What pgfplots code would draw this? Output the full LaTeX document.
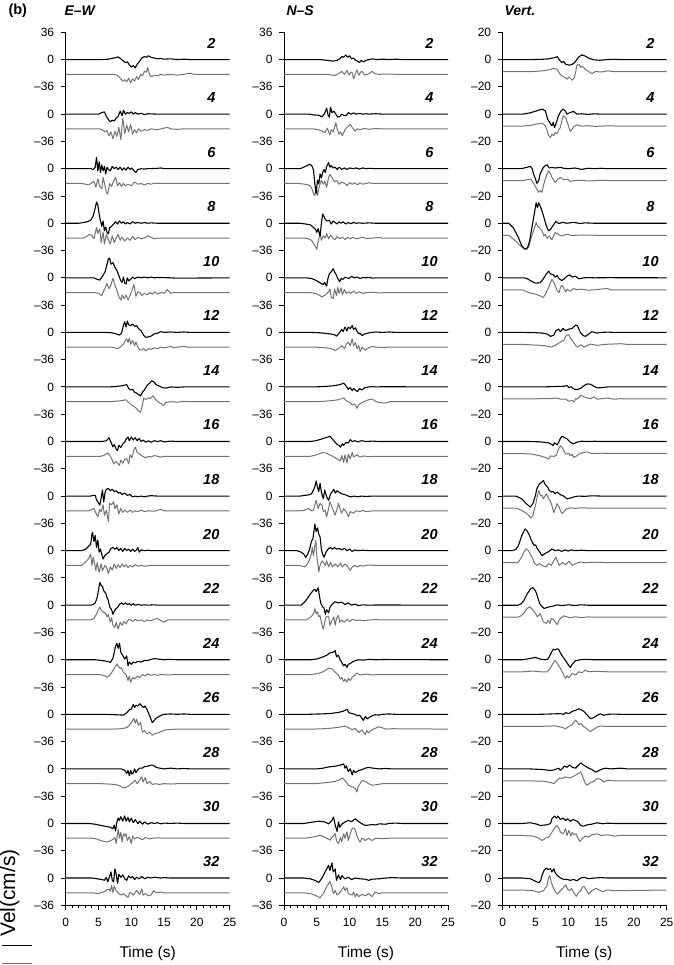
\documentclass[border=0pt]{standalone}
\usepackage{pgfplots}
\pgfplotsset{compat=1.18}
\usepackage{fontspec}
\setmainfont{Liberation Sans}
\definecolor{tracegray}{gray}{0.45}

\pgfplotsset{
  seis/.style={
    scale only axis, width=164pt, height=873pt, anchor=south west,
    xmin=0, xmax=25, xtick={0,5,...,25}, minor x tick num=4,
    axis x line*=bottom, axis y line*=left,
    axis line style={-, line width=1pt},
    tick align=outside, major tick length=5pt, minor tick length=2.5pt,
    every tick/.style={black, line width=0.9pt},
    tick label style={font=\fontsize{12}{12}\selectfont},
    /pgf/number format/assume math mode=true,
    xticklabel style={yshift=-4pt},
    yticklabel style={xshift=-3pt},
  },
  % k = row number (0 = top), traces shifted down by whole panels
  bk/.style={black, line width=1.1pt, line join=round, y filter/.expression={y-72*#1}},
  gr/.style={tracegray, line width=1pt, line join=round, y filter/.expression={y-72*#1-19.5}},
  vbk/.style={black, line width=1.1pt, line join=round, y filter/.expression={y-40*#1}},
  vgr/.style={tracegray, line width=1pt, line join=round, y filter/.expression={y-40*#1-8.8}},
}
\tikzset{plab/.style={font=\bfseries\itshape\fontsize{14.5}{14.5}\selectfont}}

\begin{document}
\begin{tikzpicture}[x=1pt,y=1pt]
\useasboundingbox (0,0) rectangle (673,965);

%% ---------------- E-W ----------------
\begin{axis}[seis, at={(65.7pt,59.7pt)}, ymin=-1116, ymax=36,
  ytick={36,0,-36,-72,-108,-144,-180,-216,-252,-288,-324,-360,-396,-432,-468,-504,-540,-576,-612,-648,-684,-720,-756,-792,-828,-864,-900,-936,-972,-1008,-1044,-1080,-1116},
  yticklabels={36,0,–36,0,–36,0,–36,0,–36,0,–36,0,–36,0,–36,0,–36,0,–36,0,–36,0,–36,0,–36,0,–36,0,–36,0,–36,0,–36}]
\addplot[gr=0] coordinates {(0,0)(7.5,0)(8,-2)(8.3,-5)(8.7,-9)(9,-7)(9.3,-10)(9.6,-5)(9.9,-11)(10.2,-6)(10.5,-9)(10.8,-3)(11.1,-7)(11.4,0)(11.7,-2)(12,4)(12.3,3)(12.5,9)(12.8,-1)(13.1,-3)(13.5,-1)(14,-2)(14.5,0)(15,-1)(16,0)(17,-1)(18,0)(19,1.5)(19.5,0)(25,0)};
\addplot[bk=0] coordinates {(0,0)(5.5,0)(6.5,0.5)(7.3,2)(8,3.5)(8.4,1)(8.8,-2)(9.1,-4)(9.4,-3)(9.7,-7)(10,-10)(10.3,-8)(10.6,-11)(10.9,-6)(11.2,-3)(11.6,2)(12,4)(12.3,3)(12.6,5)(13,3)(13.5,2)(14,1)(14.5,1.5)(15,0.5)(16,1)(17,0)(18,0.5)(19,0)(25,0)};
\addplot[gr=1] coordinates {(0,0)(5.3,0)(5.7,-2)(6,-4)(6.3,-2)(6.6,-9)(6.9,-4)(7.2,-13)(7.5,-3)(7.8,-10)(8.1,2)(8.4,-14)(8.7,14)(9,-6)(9.3,5)(9.6,-4)(9.9,6)(10.2,-7)(10.5,-1)(10.8,-5)(11.1,0)(11.5,-3)(12,-1)(12.5,-2)(13,0)(14,-1)(15,1)(15.5,2)(16,0)(17,-0.5)(18,0)(25,0)};
\addplot[bk=1] coordinates {(0,0)(5,0)(5.5,2)(5.9,3)(6.2,-3)(6.5,-7)(6.8,-10)(7.1,-8)(7.4,-9)(7.7,-5)(8,-3)(8.3,4)(8.6,-2)(8.8,5)(9.1,0)(9.4,2)(9.7,1)(10,3)(10.3,0)(10.6,2)(11,0)(11.5,1)(12,-0.5)(12.5,0.5)(14,0)(25,0)};
\addplot[gr=2] coordinates {(0,0)(2.5,0)(3,-1)(3.5,-2)(4,1)(4.3,3)(4.6,-5)(4.9,6)(5.2,-4)(5.5,-7)(5.7,8)(6,-3)(6.2,-12)(6.4,-14)(6.7,0)(7,-4)(7.3,3)(7.6,8)(7.9,-3)(8.2,1)(8.5,-4)(8.8,0)(9.1,-3)(9.5,-1)(10,-3)(10.5,2)(11,-1)(11.5,0)(12,-2)(12.5,0)(13,-1)(13.5,0.5)(14,0)(25,0)};
\addplot[bk=2] coordinates {(0,0)(3.8,0)(4.2,-1)(4.5,2)(4.7,15)(4.9,-3)(5.1,9)(5.3,-5)(5.5,5)(5.7,-3)(5.9,3)(6.1,-7)(6.3,2)(6.5,-1)(6.8,-3)(7.1,3)(7.4,0)(7.7,2)(8,-1)(8.3,2)(8.6,-2)(8.9,1)(9.2,-2)(9.5,2)(9.8,-1)(10.1,1)(10.4,-3)(10.7,-5)(11,-1)(11.5,0)(12,-0.5)(12.5,0)(14,0.5)(14.5,1)(15,0)(25,0)};
\addplot[gr=3] coordinates {(0,0)(2.8,0)(3.2,2)(3.6,5)(4,3)(4.3,-1)(4.7,14)(4.9,6)(5.2,12)(5.4,-6)(5.7,8)(5.9,-8)(6.2,5)(6.5,-2)(6.8,-8)(7.1,3)(7.4,-6)(7.7,0)(8,5)(8.3,-3)(8.6,1)(9,-4)(9.4,0)(9.8,-3)(10.2,2)(10.6,-2)(11,1)(11.5,-1)(12,0)(12.5,3)(13,1)(13.5,-1)(14,0)(25,0)};
\addplot[bk=3] coordinates {(0,0)(2,0)(2.7,1)(3.3,2)(3.8,4)(4.2,10)(4.5,20)(4.7,28)(4.9,24)(5.1,12)(5.3,3)(5.5,-4)(5.7,3)(5.9,-10)(6.1,-5)(6.3,-12)(6.5,-14)(6.7,-6)(7,-4)(7.3,-1)(7.6,2)(7.9,-1)(8.2,3)(8.5,0)(8.8,2)(9.1,-1)(9.4,1)(9.8,-1)(10.2,2)(10.6,0)(11,1)(11.5,0)(12,1)(12.5,0)(13,0.5)(14,0)(25,0)};
\addplot[gr=4] coordinates {(0,0)(4.5,0)(5,-1)(5.5,-4)(5.8,2)(6.1,8)(6.3,12)(6.6,5)(6.9,10)(7.2,19)(7.5,10)(7.8,3)(8.1,-5)(8.4,-10)(8.6,-3)(8.9,-8)(9.2,-3)(9.5,-10)(9.8,-4)(10.1,3)(10.4,11)(10.7,-5)(11,1)(11.3,0)(11.6,-4)(12,-1)(12.4,-3)(12.8,0)(13.2,-2)(13.6,1)(14,-2)(14.5,0)(15,-1)(15.5,4)(16,-1)(16.5,0)(25,0)};
\addplot[bk=4] coordinates {(0,0)(4.3,0)(4.8,-2)(5.2,-3)(5.6,2)(6,8)(6.3,18)(6.5,25)(6.7,26)(6.9,18)(7.2,20)(7.5,14)(7.8,10)(8.1,3)(8.4,-4)(8.6,-6)(8.8,1)(9,-7)(9.2,-8)(9.4,0)(9.6,-4)(9.9,-2)(10.2,1)(10.5,-1)(11,1)(11.5,0)(12,1)(12.5,0)(13,1)(13.5,0)(14,0.5)(16,0)(17,-0.5)(25,0)};
\addplot[gr=5] coordinates {(0,0)(7,0)(7.5,-1)(8,-2)(8.4,1)(8.8,4)(9.1,9)(9.3,11)(9.5,6)(9.7,12)(9.9,4)(10.2,9)(10.5,2)(10.7,7)(11,0)(11.3,-4)(11.6,-3)(11.9,-2)(12.2,-5)(12.6,-2)(13,-3)(13.5,-1)(14,-2)(14.5,0)(15,-1)(16,1)(16.5,-1)(17,0)(18,1)(18.5,0)(25,0)};
\addplot[bk=5] coordinates {(0,0)(6,0)(7,-0.5)(7.7,-2)(8.2,-3.5)(8.5,-1)(8.8,9)(9,14)(9.2,7)(9.4,15)(9.6,10)(9.9,9)(10.2,11)(10.5,8)(10.8,9)(11.1,5)(11.5,2)(11.9,-4)(12.2,-6.5)(12.6,-6)(13,-5)(13.5,-2)(14,-1)(14.5,1)(15,0)(16,0.5)(17,0)(18,0.5)(19,0)(25,0)};
\addplot[gr=6] coordinates {(0,0)(6.5,0)(7.5,0.5)(8.5,1.5)(9.2,2.5)(9.6,-1)(10,-4)(10.4,-6)(10.8,-9)(11.1,-12)(11.4,-14)(11.6,-8)(11.9,5)(12.2,3)(12.6,5)(12.9,4)(13.3,8)(13.7,3)(14.2,-1)(14.6,-3)(14.9,-5)(15.3,-1)(16,0)(17,-0.5)(18,0.5)(19,0)(25,0)};
\addplot[bk=6] coordinates {(0,0)(6.5,0)(7.5,0.5)(8.5,1.5)(9.3,3)(9.6,-2)(9.9,-4)(10.2,-3)(10.5,-7)(10.8,-8)(11.1,-10)(11.4,-12)(11.7,-7)(12,-4)(12.4,2)(12.8,5)(13.1,8)(13.4,7)(13.8,3)(14.3,1)(14.8,-1)(15.3,-1.5)(16,0)(17,-0.5)(18,0)(25,0)};
\addplot[gr=7] coordinates {(0,0)(5.3,0)(5.8,1)(6.4,4.5)(6.8,0)(7.1,-5)(7.3,-10)(7.6,-7)(7.9,-9)(8.2,-12)(8.4,-5)(8.7,-9)(9,-4)(9.3,-3)(9.6,-10)(9.8,2)(10.1,-2)(10.4,9)(10.6,12)(10.9,5)(11.3,3)(11.7,0)(12.2,-2)(12.6,0)(13,-1)(13.5,1)(14,0)(14.5,-1)(15,0)(25,0)};
\addplot[bk=7] coordinates {(0,0)(5.5,0)(6.2,1)(6.6,5)(6.9,-1)(7.2,-7)(7.4,-4)(7.7,-10)(7.9,-12)(8.1,-5)(8.4,-8)(8.7,-3)(9,-1)(9.2,3)(9.5,6)(9.7,1)(10,6)(10.3,2)(10.6,5)(10.9,1)(11.2,4)(11.5,0)(11.8,2)(12.2,-1)(12.6,1)(13,-1)(13.5,1)(14,0)(14.5,1)(15,-0.5)(16,0.5)(17,0)(25,0)};
\addplot[gr=8] coordinates {(0,0)(3.5,0)(4,2)(4.3,3)(4.6,-3)(4.9,-8)(5.2,2)(5.4,-1)(5.7,8)(5.9,-6)(6.2,1)(6.5,-14)(6.7,10)(7,8)(7.3,12)(7.5,3)(7.8,8)(8.1,-4)(8.4,3)(8.7,-2)(9,1)(9.4,-2)(9.8,1)(10.2,-2)(10.6,0)(11,-1)(11.5,1)(12,-1)(12.5,0)(13.5,-0.5)(14.5,2)(15,0)(25,0)};
\addplot[bk=8] coordinates {(0,0)(3.8,0)(4.2,1)(4.5,1)(4.7,-5)(5,-9)(5.2,-12)(5.4,-3)(5.6,8)(5.8,-8)(6,5)(6.2,9)(6.5,10)(6.8,7)(7.1,9)(7.4,6)(7.7,7)(8,4)(8.3,5)(8.6,2)(9,4)(9.4,1)(9.8,2)(10.2,-1)(10.6,0)(11,-1)(11.5,0)(12,-1)(12.5,0)(13,0.5)(14,0)(25,0)};
\addplot[gr=9] coordinates {(0,0)(2.4,0)(2.8,3)(3.2,6)(3.5,9)(3.8,15)(4,0)(4.2,11)(4.4,3)(4.6,-7)(4.8,4)(5.1,-9)(5.4,2)(5.6,-7)(6,0)(6.3,-4)(6.5,-11)(6.8,-2)(7.1,-6)(7.4,2)(7.7,-4)(8,1)(8.3,-3)(8.6,2)(8.9,-2)(9.2,1)(9.5,-3)(9.8,0)(10.2,-2)(10.6,1)(11,-1)(11.5,0)(12,-1)(13,0)(25,0)};
\addplot[bk=9] coordinates {(0,0)(2.3,0)(2.8,1)(3.2,3)(3.5,6)(3.8,8)(4,22)(4.1,24)(4.3,12)(4.5,20)(4.7,4)(4.9,14)(5.1,-2)(5.3,2)(5.5,-5)(5.7,-11)(6,-6)(6.3,-4)(6.6,-2)(6.9,3)(7.2,4)(7.5,2)(7.8,4)(8.1,0)(8.4,3)(8.7,-1)(9,3)(9.3,0)(9.6,2)(9.9,-1)(10.2,2)(10.5,-1)(10.8,1)(11,4)(11.2,-2)(11.5,1)(12,0)(12.5,0.5)(13,0)(25,0)};
\addplot[gr=10] coordinates {(0,0)(3.8,0)(4.3,2)(4.7,8)(5,14)(5.2,17)(5.5,12)(5.8,10)(6.1,9)(6.3,4)(6.5,7)(6.8,-3)(7,3)(7.2,-7)(7.5,-10)(7.7,-3)(8,-12)(8.3,-3)(8.6,-7)(8.9,-2)(9.2,-5)(9.5,0)(9.8,1)(10.2,-2)(10.6,1)(11,-1)(11.5,0)(12,-2)(12.5,0)(13,-1)(13.5,1)(14,2)(14.5,-1)(15,-3)(15.5,0)(16,0)(25,0)};
\addplot[bk=10] coordinates {(0,0)(3.8,0)(4.2,1)(4.5,3)(4.8,10)(5,20)(5.2,30)(5.4,26)(5.6,25)(5.8,19)(6.1,16)(6.3,10)(6.5,6)(6.7,-2)(7,-6)(7.2,-12)(7.4,-8)(7.6,-5)(7.9,-3)(8.2,1)(8.5,3)(8.8,1)(9.1,3)(9.4,1)(9.7,2)(10,0)(10.3,2)(10.6,0)(11,1)(11.5,0)(12,0.5)(12.5,0)(13.5,0.5)(14,0)(25,0)};
\addplot[gr=11] coordinates {(0,0)(5,0)(5.7,-1)(6.4,-3.5)(6.9,1)(7.3,7)(7.8,14)(8,11)(8.3,8)(8.5,9)(8.8,3)(9.2,0)(9.5,-8)(9.7,-2)(9.9,-10)(10.2,-4)(10.5,-6)(10.9,-2)(11.3,-4)(11.7,0)(12.1,-2)(12.5,1)(13,-1)(13.5,0)(14,-1)(14.5,0)(15.5,-0.5)(17,0)(25,0)};
\addplot[bk=11] coordinates {(0,0)(4.5,0)(5.5,-1)(6.3,-2)(6.8,-3.5)(7.2,2)(7.4,10)(7.6,18)(7.8,22)(8,15)(8.2,22)(8.4,10)(8.6,7)(8.8,4)(9,1)(9.3,5)(9.5,-8)(9.7,-3)(10,-6)(10.3,-3)(10.6,-4)(11,-2)(11.5,-3)(12,-1)(12.5,-1)(13,0.5)(13.5,1.5)(14,1)(15,0)(16,0.5)(17,0)(25,0)};
\addplot[gr=12] coordinates {(0,0)(7,0)(8.5,0.5)(9.3,2)(9.7,5)(10.1,10)(10.4,14)(10.6,8)(10.8,13)(11.1,5)(11.4,9)(11.7,-4)(12,-2)(12.4,-6)(12.8,-4)(13.2,-8)(13.6,-6)(14.1,-5)(14.6,-3)(15.2,-1)(16,-0.5)(17,0)(25,0)};
\addplot[bk=12] coordinates {(0,0)(6,0)(7.5,-0.5)(8.8,-1)(9.3,2)(9.7,6)(10,7)(10.3,13)(10.5,9)(10.7,12)(11,11)(11.3,14)(11.6,11)(11.9,9)(12.1,11)(12.4,6)(12.8,-2)(13.2,-11)(13.5,-8)(13.8,-5)(14.2,-3)(14.6,-1)(15,0)(16,0.5)(17,0)(18,0.5)(19,0)(25,0)};
\addplot[gr=13] coordinates {(0,0)(5.5,0)(6.5,-0.5)(7.5,-1)(8.3,-3)(8.8,-5.7)(9.2,-5)(9.6,-3)(10,0)(10.3,2)(10.6,4.4)(10.9,0)(11.2,4)(11.6,9)(11.8,2)(12.1,8)(12.4,0)(12.8,3)(13.2,-1)(13.7,0)(14.2,-1)(15,0)(16,-0.5)(17,0)(25,0)};
\addplot[bk=13] coordinates {(0,0)(8.5,0)(9,-2)(9.3,-6)(9.5,-2)(9.7,-9)(9.9,-2)(10.1,-7)(10.3,-5)(10.5,0)(10.7,-5)(11,-1)(11.3,1)(11.7,1)(12,3)(12.5,3.5)(13,5)(13.3,5)(13.8,2)(14.3,1)(15,0)(16,1)(17,0)(18,0.5)(19,0)(25,0)};
\addplot[gr=14] coordinates {(0,0)(4,0)(4.7,-1)(5.3,-3)(6.2,-5)(6.8,-3.5)(7.3,-1)(7.5,1)(7.7,-7)(8,12)(8.2,0)(8.4,8)(8.6,-5)(8.8,6)(9,3)(9.2,6)(9.4,-3)(9.7,2)(10,-7)(10.2,3)(10.5,-1)(10.9,1)(11.3,0)(11.7,-2)(12.2,1)(12.7,-1)(13.2,0)(14,0.5)(15,0)(25,0)};
\addplot[bk=14] coordinates {(0,0)(3.5,0)(4.5,-1)(5.3,-2.5)(6.2,-4)(6.8,-5)(7.2,-7)(7.4,-2)(7.6,-10)(7.8,2)(8,7)(8.2,4)(8.4,9)(8.7,3)(9,10)(9.2,3)(9.5,8)(9.7,2)(10,7)(10.3,1)(10.6,5)(11,0)(11.3,3)(11.7,-1)(12,2)(12.5,-1)(13,1)(13.5,0)(14,1)(14.5,-0.5)(15,0.5)(16,0)(17,0.5)(18,0)(25,0)};
\addplot[gr=15] coordinates {(0,0)(4,0)(5,-1)(5.5,0.5)(6,2)(6.3,4)(6.6,5)(6.8,2)(7,10)(7.2,0)(7.4,9)(7.7,3)(8,0)(8.4,-3)(8.8,-1)(9.2,-4)(9.5,-6)(9.8,1)(10.3,-3)(10.8,3)(11.3,-2)(11.6,5)(11.8,-3)(12.2,-1)(12.6,-4)(13,-3)(13.4,3)(13.8,0)(14.3,1)(15,0)(25,0)};
\addplot[bk=15] coordinates {(0,0)(4,0)(4.8,-1)(5.5,-2)(5.9,-3)(6.2,1)(6.4,-5)(6.7,2)(6.9,8)(7.1,-3)(7.3,-5)(7.5,12)(7.7,5)(7.9,-7)(8.1,5)(8.4,1)(8.7,4)(9,-1)(9.3,-3)(9.6,3)(9.9,0)(10.2,2)(10.5,-2)(10.8,1)(11.2,-1)(11.6,2)(12,-1)(12.5,1)(13,0)(13.5,1)(14.5,0)(15,0.5)(16,0)(25,0)};
\end{axis}

%% ---------------- N-S ----------------
\begin{axis}[seis, at={(284pt,59.7pt)}, ymin=-1116, ymax=36,
  ytick={36,0,-36,-72,-108,-144,-180,-216,-252,-288,-324,-360,-396,-432,-468,-504,-540,-576,-612,-648,-684,-720,-756,-792,-828,-864,-900,-936,-972,-1008,-1044,-1080,-1116},
  yticklabels={36,0,–36,0,–36,0,–36,0,–36,0,–36,0,–36,0,–36,0,–36,0,–36,0,–36,0,–36,0,–36,0,–36,0,–36,0,–36,0,–36}]
\addplot[gr=0] coordinates {(0,0)(6.5,0)(7.3,-1)(7.8,-1.5)(8.3,1)(8.8,4)(9.2,0)(9.6,5)(9.9,-1)(10.2,3)(10.4,2)(10.6,-6)(10.9,1)(11.1,6)(11.4,-1)(11.7,3)(11.9,4)(12.3,-1)(12.7,0)(13,1)(13.4,4)(13.8,1)(14.5,0)(15.5,0.5)(17,0)(25,0)};
\addplot[bk=0] coordinates {(0,0)(5.5,0)(6.5,-1)(7.5,-2)(8.1,-1)(8.5,1)(8.8,4)(9.1,3)(9.4,6)(9.7,3)(10,5)(10.3,1)(10.6,2)(10.9,-1)(11.2,-2)(11.5,-4)(11.8,-1)(12.1,-3)(12.5,-1)(13,0)(13.5,1)(14,0)(15,0.5)(16,0)(17,0.5)(18,0)(25,0)};
\addplot[gr=1] coordinates {(0,0)(4.5,0)(5.3,-1)(5.8,-3)(6.2,-5)(6.6,1)(7,-8)(7.2,-1)(7.5,-4)(7.9,8)(8.1,0)(8.4,-7)(8.6,-4)(8.9,-9)(9.3,-1)(9.6,2)(9.9,4)(10.1,6)(10.4,2)(10.8,-3)(11.2,0)(11.6,-1)(12.2,0.5)(13,-0.5)(14,0.5)(15,0)(25,0)};
\addplot[bk=1] coordinates {(0,0)(3.8,0)(4.5,-1)(5.3,-1.5)(5.8,-3.5)(6.2,1)(6.5,8)(6.7,-1)(6.9,-4)(7.1,9)(7.3,2)(7.6,4)(7.9,0)(8.2,-4)(8.5,-3)(8.8,0)(9.1,-1.5)(9.5,-2)(9.8,2)(10.2,0)(10.6,1.5)(11,0)(11.5,1)(12,0)(12.5,0.5)(13,0)(14,0.5)(15,0)(25,0)};
\addplot[gr=2] coordinates {(0,0)(2,0)(2.8,-0.5)(3.5,-1.5)(4,-3)(4.3,-8)(4.5,-14)(4.7,-16)(4.9,-5)(5.1,-16)(5.4,-3)(5.7,4)(6,-1)(6.2,3)(6.5,-5)(6.8,8)(7,12)(7.3,8)(7.7,2)(8,4)(8.4,-1)(8.8,2)(9.3,0)(9.6,-3)(10,1)(10.4,-1)(10.8,1)(11.2,-2)(11.6,1)(12,-1)(12.5,0)(13,1)(13.5,0)(25,0)};
\addplot[bk=2] coordinates {(0,0)(2.5,0)(3,2)(3.5,4)(4,6)(4.3,3)(4.5,-2)(4.7,-20)(4.9,-33)(5.1,-15)(5.3,-20)(5.5,-7)(5.7,-12)(5.9,-5)(6.1,-1)(6.3,-5)(6.5,3)(6.8,8)(7,2)(7.2,4)(7.5,1)(7.8,2)(8.1,-1)(8.4,2)(8.8,-1)(9.2,1)(9.6,-1)(10,1)(10.5,0)(11,1)(11.5,-0.5)(12,1)(12.5,0)(13,0.5)(14,0)(25,0)};
\addplot[gr=3] coordinates {(0,0)(3,0)(3.7,-1)(4.2,-3)(4.7,-10)(5,-15)(5.2,-5)(5.5,6)(5.7,-3)(6,3)(6.3,0)(6.5,6)(6.8,-1)(7.1,4)(7.4,0)(7.8,-2)(8.1,2)(8.5,-1)(8.9,1)(9.3,-2)(9.7,1)(10.1,-1)(10.5,1)(11,-1)(11.5,0)(12,1)(12.5,-0.5)(13.5,0)(14.5,0.5)(15,0)(25,0)};
\addplot[bk=3] coordinates {(0,0)(2.5,0)(3.3,-1)(4,-2)(4.5,-5.7)(4.8,-8)(5,-12)(5.2,-7)(5.5,-17)(5.7,0)(5.9,12)(6.1,9)(6.3,5)(6.6,3)(6.9,4)(7.2,-1)(7.5,3)(7.8,1)(8.1,-1)(8.4,2)(8.7,0)(9,2)(9.4,-1)(9.8,1)(10.2,-0.5)(10.6,1)(11,0)(11.5,0.5)(12,0)(13,0.5)(14,0)(25,0)};
\addplot[gr=4] coordinates {(0,0)(4,0)(4.8,-1)(5.3,-3)(5.8,-5.7)(6.3,-3)(6.8,1)(7,5)(7.2,-6)(7.5,-8)(7.7,5)(8,-4)(8.2,7)(8.4,-1)(8.7,6)(8.9,-3)(9.2,4)(9.5,-1)(9.8,1)(10.2,-1)(10.6,2)(11,-1)(11.5,1)(12,-1)(12.5,0)(13.5,0.5)(14.5,-0.5)(15.5,0)(25,0)};
\addplot[bk=4] coordinates {(0,0)(3.5,0)(4.2,-1)(4.8,-3)(5.5,-6.6)(6,-9)(6.2,-6)(6.5,-11)(6.7,-1)(6.9,5)(7.2,8)(7.5,12)(7.7,8)(7.9,5)(8.2,-1)(8.5,-5)(8.7,-1)(9,-2)(9.3,1)(9.6,0)(9.9,-1)(10.3,2)(10.7,0)(11.2,1)(11.6,-1)(12,0.5)(12.5,0)(13,0.5)(13.5,-0.5)(14,0)(25,0)};
\addplot[gr=5] coordinates {(0,0)(4.5,0)(6,-0.5)(7,-1.5)(7.8,-4.4)(8.3,-2)(8.8,2)(9.2,-2)(9.5,4)(9.8,6.6)(10.1,2)(10.4,11)(10.6,2)(10.9,6)(11.1,-2)(11.4,2)(11.6,-5.7)(11.9,0)(12.4,-4)(12.9,-1)(13.4,1)(14,0)(15,-0.5)(16,0)(25,0)};
\addplot[bk=5] coordinates {(0,0)(4,0)(5.5,-0.5)(7,-2)(7.7,-3)(8,-5)(8.4,-1)(8.8,4)(9,1)(9.3,7)(9.6,2)(9.8,7)(10.1,5)(10.4,9)(10.6,4)(10.9,6)(11.1,2)(11.4,-2)(11.6,-1)(11.9,-4.4)(12.3,-2)(12.8,-1)(13.3,0)(14,0.5)(15,0)(16,0.5)(17,0)(25,0)};
\addplot[gr=6] coordinates {(0,0)(4.5,0)(6,0.5)(7.3,1.5)(8.3,2.6)(9.1,5)(9.5,1)(10.1,-1)(10.4,-4.4)(10.7,-3)(11,-6)(11.1,-8.8)(11.4,-4)(11.9,-1)(12.4,1)(12.9,2.6)(13.4,3.5)(13.9,1)(14.4,-1)(15,-1.5)(15.6,-1.5)(16.2,0)(25,0)};
\addplot[bk=6] coordinates {(0,0)(4.5,0)(6,0.5)(7.5,1.5)(8.5,3)(9.1,5)(9.4,2)(9.8,-3)(10.1,-1)(10.4,-5)(10.6,-2)(11,-5)(11.2,-6)(11.5,-2)(11.9,-4)(12.3,-1)(12.9,0)(13.5,0.5)(14,0)(15,0.3)(25,0)};
\addplot[gr=7] coordinates {(0,0)(4,0)(4.8,1.5)(5.3,3)(5.8,5)(6.5,4)(7.3,0.5)(7.8,-2)(8.1,-3.5)(8.6,-6)(8.8,1)(9.1,-8)(9.3,2)(9.6,-9)(9.8,3)(10.1,-3.5)(10.4,5)(10.6,-1)(11.1,2)(11.6,-1)(12.2,0.5)(12.8,-0.5)(13.5,0)(25,0)};
\addplot[bk=7] coordinates {(0,0)(4,0)(4.8,1)(5.5,2.6)(6.3,5)(6.8,6)(7,7)(7.3,4)(7.8,-1)(8.1,-4)(8.4,-5)(8.6,-7.5)(8.9,-3)(9.1,-5)(9.5,-1)(9.8,-2)(10.1,2.6)(10.4,0)(10.8,1)(11.3,-0.5)(11.8,1)(12.5,0)(13.5,0.5)(14.5,0)(25,0)};
\addplot[gr=8] coordinates {(0,0)(2,0)(3,0.5)(3.7,3)(4.2,0)(4.5,1)(4.7,7.5)(4.9,14)(5.2,3)(5.5,10)(5.8,7)(6,-1)(6.3,1)(6.5,-8)(6.8,3)(7,12)(7.3,5)(7.6,-1)(7.8,-5.7)(8.1,3)(8.3,10)(8.6,1)(8.8,-3)(9.1,3)(9.6,-3)(9.8,-8)(10.1,-1)(10.6,-3)(11,0)(11.5,-1)(12,0.5)(12.5,-1)(13.5,0)(25,0)};
\addplot[bk=8] coordinates {(0,0)(2.5,0)(3.2,1)(3.7,1.5)(4.2,3)(4.7,12)(4.9,20)(5.1,12)(5.3,6)(5.5,17)(5.7,5)(6,-3.5)(6.2,8)(6.5,-1)(6.8,-5.7)(7.1,3)(7.3,5)(7.6,9)(7.8,4)(8.1,7)(8.4,5)(8.8,3)(9.3,2)(9.8,0)(10.2,-1)(10.7,0)(11.2,-1)(11.8,0)(12.5,-0.5)(13.5,0)(25,0)};
\addplot[gr=9] coordinates {(0,0)(2.2,0)(2.8,-1)(3.2,-2)(3.7,3.5)(4,10)(4.2,17)(4.3,24)(4.5,13)(4.7,26)(4.85,33)(5,12)(5.2,0)(5.3,-8.8)(5.5,0)(5.8,6)(6,4)(6.3,0)(6.5,6)(6.8,-2)(7.1,4)(7.4,-2)(7.8,2)(8.2,-2)(8.6,3)(8.9,-2)(9.3,2)(9.7,-1)(10.1,-6.6)(10.4,-2)(10.8,0)(11.2,-2)(11.6,0)(12,-1)(12.5,0)(13,0.5)(14,0)(25,0)};
\addplot[bk=9] coordinates {(0,0)(2,0)(2.6,-2)(3,-4.4)(3.3,-8.8)(3.6,-5)(3.9,2)(4.2,13)(4.4,15)(4.6,28)(4.7,35)(4.9,25)(5.1,30)(5.3,22)(5.5,18)(5.7,2)(5.9,-5)(6.1,-8.8)(6.4,-2)(6.8,3)(7.1,4)(7.4,2)(7.7,4)(8,2)(8.4,3)(8.8,1)(9.2,3)(9.6,0)(10,2)(10.4,-1)(10.8,1)(11.2,0)(12,0.5)(13,0)(25,0)};
\addplot[gr=10] coordinates {(0,0)(3.4,0)(3.8,2)(4.2,5)(4.5,8.4)(4.7,15)(4.9,8)(5.1,11)(5.3,4)(5.5,6)(5.8,-7)(6,-12)(6.2,-3)(6.4,4)(6.8,5)(7,-7)(7.3,-1)(7.6,4)(7.8,-7)(8,2)(8.3,6)(8.5,-3)(8.8,0)(9.2,-3)(9.6,1)(10,-2)(10.5,1)(11,-1)(11.5,0)(12,-1)(13,0)(14,0.5)(15,0)(25,0)};
\addplot[bk=10] coordinates {(0,0)(2.6,0)(3,3)(3.5,8)(4,14.5)(4.5,20)(4.7,21)(4.9,18)(5.2,23)(5.4,12)(5.6,3)(5.8,-1)(6.1,-4)(6.3,-12)(6.5,-6)(6.8,-10)(7,-3)(7.3,1)(7.8,4.4)(8.3,3)(8.8,4)(9.3,1)(9.8,3)(10.3,0)(10.8,1.5)(11.3,-0.5)(12,0.5)(13,0)(14,0.3)(25,0)};
\addplot[gr=11] coordinates {(0,0)(4,0)(5,1)(5.8,3)(6.4,6)(6.8,8.4)(7.3,7.5)(7.8,3)(8.3,-0.5)(8.6,-6)(8.8,-4)(9.1,-9)(9.3,-6)(9.6,-10)(9.8,-5)(10.1,-8)(10.4,-3.5)(10.8,-1)(11.1,2)(11.6,-0.5)(12.5,0.5)(13.5,-0.5)(14.5,0)(25,0)};
\addplot[bk=11] coordinates {(0,0)(4,0)(5,1)(6,4)(6.5,6)(7,9)(7.5,10)(7.8,12)(8,4)(8.3,6)(8.5,1)(8.8,-3.5)(9.1,-8)(9.3,-6)(9.6,-10)(9.8,-6)(10.1,-5)(10.4,-3)(10.9,-1)(11.4,0)(12,-0.5)(13,0.5)(14,0)(15,0.3)(25,0)};
\addplot[gr=12] coordinates {(0,0)(4.5,0)(6,0.5)(7.5,1.5)(8.8,3)(9.3,4)(9.8,2)(10.4,-1)(10.8,1)(11.2,-2)(11.4,-4.4)(11.9,-1)(12.2,-5)(12.4,-7)(12.6,-2)(12.9,-5)(13.4,-1)(13.9,1)(14.4,3)(14.9,2)(15.5,0)(16.5,0.5)(25,0)};
\addplot[bk=12] coordinates {(0,0)(3.7,0)(5.5,0.5)(7,1)(8.3,2.5)(9,4)(9.6,6.6)(9.9,2)(10.4,1)(10.8,0)(11.2,-2)(11.5,-1)(11.8,-4)(12.1,-8)(12.4,-3)(12.7,-6)(13,-4)(13.4,-2)(13.9,-0.5)(14.5,-1)(15,0)(16,0.5)(17,0)(25,0)};
\addplot[gr=13] coordinates {(0,0)(4.7,0)(6,1)(7,2)(7.8,3)(8.5,5)(8.9,7.5)(9.3,4)(9.8,-2)(10.3,-4)(10.6,-5)(10.9,-6.6)(11.1,-11)(11.3,-4)(11.6,0)(11.9,4.4)(12.4,3)(12.9,0)(13.4,-2)(14,-1.5)(15,0)(25,0)};
\addplot[bk=13] coordinates {(0,0)(5,0)(6,1)(6.8,2.6)(7.8,3.5)(8.6,5)(9.1,6.6)(9.3,1)(9.5,4)(9.8,-3.5)(10.1,0)(10.4,-8)(10.6,-2)(10.9,-5)(11.4,-2)(11.9,-1)(12.4,1)(12.9,2)(13.5,1)(14.5,0)(15.5,0.5)(16.5,0)(25,0)};
\addplot[gr=14] coordinates {(0,0)(3,0)(4,1)(4.7,2)(5.5,4)(6.3,1)(7,-2.6)(7.5,3)(7.8,6)(8,-3)(8.3,-7)(8.6,1)(8.8,-5)(9.1,6)(9.3,0)(9.6,8.4)(9.8,-3)(10.1,6)(10.4,12.8)(10.7,13.6)(10.9,10)(11.1,4)(11.4,-2.6)(11.6,-5)(11.9,0)(12.4,-3)(12.9,0)(13.4,-3)(14,0)(15,-0.5)(16,0)(25,0)};
\addplot[bk=14] coordinates {(0,0)(3,0)(3.8,1)(4.5,2)(5.3,3)(6.2,2)(6.8,-0.5)(7.3,4)(7.55,8.4)(7.8,-2)(8.1,-10.6)(8.3,2)(8.5,-5)(8.8,-1)(9.3,2)(9.8,4)(10.3,2.5)(10.7,5)(10.9,6)(11.3,3)(11.9,-0.5)(12.4,-2.6)(13,-2)(13.5,-1.5)(14,-2)(14.5,-0.5)(15.5,-1)(16,0)(17,0.5)(18,0)(25,0)};
\addplot[gr=15] coordinates {(0,0)(3,0)(4,-1)(4.7,-3)(5.5,-6.6)(6,-1)(6.5,8)(7,15)(7.2,10)(7.55,-1)(7.8,3)(8.1,-3)(8.6,1)(9.1,8)(9.3,3)(9.6,6.6)(9.8,-1)(10.4,-3)(10.6,1)(10.9,-5.3)(11.1,-1)(11.4,-5)(11.9,-2)(12.4,-4)(12.9,-1)(13.4,-5)(13.9,1)(14.4,-1)(15,0)(25,0)};
\addplot[bk=15] coordinates {(0,0)(3,0)(4,-1)(4.7,-3)(5.3,-6)(5.8,0)(6.3,8.8)(6.8,16.7)(7,10)(7.3,20)(7.5,8)(7.8,12)(8,-3)(8.3,4)(8.6,-2)(8.8,3)(9.3,-1)(9.8,1)(10.3,-2)(10.9,0)(11.5,-1)(12.3,-1.5)(12.9,-3)(13.5,-1.5)(14.5,-1)(15.5,0)(16.5,0.5)(18,0)(25,0)};
\end{axis}

%% ---------------- Vert. ----------------
\begin{axis}[seis, at={(502.7pt,59.7pt)}, ymin=-620, ymax=20,
  ytick={20,0,-20,-40,-60,-80,-100,-120,-140,-160,-180,-200,-220,-240,-260,-280,-300,-320,-340,-360,-380,-400,-420,-440,-460,-480,-500,-520,-540,-560,-580,-600,-620},
  yticklabels={20,0,–20,0,–20,0,–20,0,–20,0,–20,0,–20,0,–20,0,–20,0,–20,0,–20,0,–20,0,–20,0,–20,0,–20,0,–20,0,–20}]
\addplot[vgr=0] coordinates {(0,0)(4.5,0)(6,0.5)(6.75,1)(7.8,2.2)(8.3,1.7)(8.8,-2.4)(9.3,-3.9)(9.6,-4.5)(9.8,-5.6)(10.1,-4)(10.6,-6.3)(10.9,-4.4)(11.1,-1)(11.3,4.6)(11.6,5.4)(11.9,3)(12.1,4)(12.6,1.7)(13.1,0)(13.6,-1.5)(14.1,0)(15,-0.3)(16,0.5)(17,0)(25,0)};
\addplot[vbk=0] coordinates {(0,0)(4.5,0)(6,0.2)(7,0.5)(8,1.5)(8.3,2.2)(8.6,0)(9,-2.2)(9.3,-1.5)(9.6,-3.4)(10.1,-4.1)(10.6,-3.5)(11,-2)(11.3,0)(11.6,2)(12.1,3.4)(12.6,2.5)(13.1,1)(13.9,-0.2)(14.8,-0.5)(16,0)(17,0.2)(18,0)(25,0)};
\addplot[vgr=1] coordinates {(0,0)(3,0)(4.2,0.5)(5.2,1.5)(6,2.2)(6.5,0.2)(6.8,-3.4)(7,-7)(7.3,-8.3)(7.5,-5.8)(7.8,-7)(8,-4.6)(8.3,-5.4)(8.6,-2.2)(8.8,-1)(9.05,5)(9.3,7.6)(9.6,6.3)(9.8,3.4)(10.1,-1)(10.3,-3.9)(10.6,-2.2)(10.8,-0.5)(11.3,1)(12,0)(13,0.3)(14,-0.2)(16,0.2)(18,0)(25,0)};
\addplot[vbk=1] coordinates {(0,0)(3,0)(3.5,0.3)(4.2,1)(5.2,2.4)(6,3.7)(6.5,2.4)(6.85,-3.7)(7.3,-7.3)(7.5,-8.5)(7.7,-6)(7.9,-9.8)(8.2,-6)(8.5,-1.2)(8.9,2.4)(9.2,3.7)(9.5,2.5)(9.8,0)(10.3,1.2)(10.8,2)(11.3,0)(12,0.3)(13,-0.2)(14,0.2)(15,0)(25,0)};
\addplot[vgr=2] coordinates {(0,0)(3,0)(4.2,1.2)(4.6,-1)(5.2,-6)(5.5,-8.5)(5.7,-7.3)(6,-8.5)(6.2,-3.7)(6.65,3.7)(7,7.3)(7.3,4.9)(7.5,2.4)(8,-1.2)(8.3,0.5)(8.8,2.4)(9.3,0.7)(9.8,1.2)(10.3,-0.5)(10.8,0)(12,0.3)(13,-0.2)(15,0.3)(17,0)(25,0)};
\addplot[vbk=2] coordinates {(0,0)(2.8,0)(3.7,1)(4.2,1.7)(4.5,0)(4.7,-3.9)(5,-7.6)(5.2,-10.7)(5.5,-8.7)(5.7,-3.9)(6.2,1)(6.5,2.2)(6.75,2.9)(7.1,0.5)(7.5,1)(8,0.5)(8.8,1)(9.3,0.3)(10,0)(11,0.5)(12,-0.5)(13,0.3)(14,0)(15,0.3)(16,0)(25,0)};
\addplot[vgr=3] coordinates {(0,0)(0.9,0)(1.9,-4)(2.7,-7.8)(3.3,-10)(3.7,-10.3)(4,-8)(4.2,-4)(4.7,3.2)(5.1,9.3)(5.3,6.8)(5.6,5.6)(6,3.2)(6.3,-0.5)(6.5,0.7)(6.75,-2.2)(7.1,-0.5)(7.5,-3.2)(8,2)(8.5,0.7)(9,-0.5)(9.8,0.7)(10.5,-0.2)(12,0.2)(14,0)(25,0)};
\addplot[vbk=3] coordinates {(0,0)(0.9,0)(1.6,-3.2)(2.4,-10.5)(2.9,-16.6)(3.4,-19)(3.8,-17.8)(4.1,-13)(4.45,-3.2)(4.8,6.6)(5.1,15)(5.3,11.5)(5.5,15)(5.7,12.7)(6,9)(6.3,4)(6.65,-2)(7,-5.6)(7.3,-4.4)(7.8,-0.7)(8.1,1.2)(8.6,-0.2)(9.1,0.7)(9.8,0)(10.8,0.7)(11.8,-0.2)(12.5,0.3)(14,0)(25,0)};
\addplot[vgr=4] coordinates {(0,0)(3,0)(4.2,-2.4)(5,-3.2)(5.7,-4.4)(6.2,-5.6)(6.5,-3.2)(6.75,-0.7)(7.1,2.9)(7.5,7.8)(7.8,5.4)(8,2.9)(8.3,-0.7)(8.6,-2)(8.8,1.7)(9.05,3.4)(9.3,1)(9.6,-1.5)(9.8,0.5)(10.3,-1)(10.8,1)(11.3,0)(12,0.5)(13,-0.3)(14,0)(15.9,1)(16.5,0)(25,0)};
\addplot[vbk=4] coordinates {(0,0)(3.3,0)(3.8,-0.8)(4.2,-2)(5,-3.9)(5.7,-3.7)(6.2,-0.7)(6.65,2.9)(7,4.9)(7.3,2.9)(7.7,2.2)(8,0.5)(8.3,1.7)(8.6,-0.7)(9,-2)(9.4,-0.7)(9.8,1.2)(10.2,2.2)(10.6,0.5)(11.1,1.2)(11.6,-0.7)(12.4,0)(13,0.2)(14,0)(16,0.1)(25,0)};
\addplot[vgr=5] coordinates {(0,0)(3,0)(5.7,-0.7)(6.5,-1)(7.3,-2)(8,-0.7)(8.8,1.7)(9.3,2.9)(9.7,6.6)(10.1,7)(10.3,4.6)(10.6,2.9)(11.1,-0.7)(11.4,-2)(11.9,-0.2)(12.4,-2)(12.9,-0.7)(13.4,0.2)(14.4,-0.7)(15.5,0)(18,0.5)(19,0)(25,0)};
\addplot[vbk=5] coordinates {(0,0)(3,0)(5,-0.2)(6,-0.5)(6.75,-1.2)(7.3,-2.9)(7.8,-2)(8.1,1.2)(8.5,2.4)(8.8,0.5)(9.2,2.9)(9.6,1.2)(10.1,2.4)(10.6,2.9)(11.1,5.4)(11.4,4.9)(11.6,2.4)(11.9,-0.5)(12.3,-2.4)(12.6,-2.9)(13.1,-1.2)(13.6,0.5)(14.4,-0.5)(15,0)(16,0.2)(17,0)(25,0)};
\addplot[vgr=6] coordinates {(0,0)(3,0)(6,0.2)(7.3,0.3)(8.3,0.7)(8.8,-0.2)(9.6,-0.2)(10.1,-1.7)(10.6,-1)(10.9,-2.2)(11.1,0.2)(11.3,-0.2)(11.9,2.7)(12.4,1.5)(12.9,0.7)(13.4,0.2)(13.9,1.5)(14.4,-0.2)(15,0.2)(16,0.7)(17,-0.2)(18,0.2)(19,0)(25,0)};
\addplot[vbk=6] coordinates {(0,0)(6,0)(8,0.3)(9.3,0.5)(9.8,1)(10.1,-0.5)(10.4,0.2)(10.6,-0.7)(10.9,-1.5)(11.3,-2)(11.9,-1)(12.4,1)(12.9,2.2)(13.4,2)(13.9,0.5)(14.4,-0.7)(15,-0.5)(16,0)(25,0)};
\addplot[vgr=7] coordinates {(0,0)(3,0)(4.5,-0.5)(5.7,-1.7)(6.5,-2.9)(7,-4.1)(7.3,-1.7)(7.8,-2.2)(8.2,-1.2)(8.5,3.2)(8.8,5.6)(9.1,4.4)(9.3,2)(9.6,-0.5)(10.1,0.2)(10.3,-1.7)(10.6,-0.5)(10.8,-2.9)(11.3,-1.7)(11.8,0.2)(12.3,0.7)(12.9,1.2)(13.5,0)(15,0.2)(25,0)};
\addplot[vbk=7] coordinates {(0,0)(4,0)(5.5,-0.2)(6.2,-0.5)(7,-1)(7.3,-1.7)(7.7,-2.9)(7.9,-1)(8.3,-2.4)(8.6,0)(8.8,2.4)(9.1,3.9)(9.3,3.2)(9.8,2)(10.3,-0.5)(10.8,-1.7)(11.3,-0.5)(12,0.2)(13,0)(14,0.2)(15,0)(25,0)};
\addplot[vgr=8] coordinates {(0,0)(2,0)(2.9,-1.7)(3.7,-4.1)(4.3,-7.3)(4.6,-5.4)(5,2)(5.3,9.3)(5.5,12.9)(5.8,9)(6,9.3)(6.2,6.8)(6.65,10.5)(6.9,8)(7.2,5.6)(7.5,2)(7.8,-3.4)(8,-0.5)(8.3,3.2)(8.6,0.7)(8.8,-1.7)(9.05,-4.1)(9.3,-2.9)(9.6,-1)(9.8,-0.5)(10.3,0.2)(11,-0.2)(12,0.2)(13,0)(25,0)};
\addplot[vbk=8] coordinates {(0,0)(2,0)(2.9,-2)(3.6,-5.6)(4.2,-8)(4.6,-5.6)(5,0.5)(5.2,5.4)(5.6,9)(5.9,10)(6.2,11.5)(6.4,9)(6.6,7.8)(6.85,6.6)(7.1,4.1)(7.5,2.9)(7.7,3.4)(8,1.7)(8.3,2.9)(8.6,1.7)(8.8,1)(9.3,0)(9.8,-2)(10.3,-1.5)(10.8,-0.7)(11.5,0)(12.5,-0.2)(13.5,0.2)(15,0)(25,0)};
\addplot[vgr=9] coordinates {(0,0)(2.3,0)(2.9,4)(3.3,8.5)(3.6,10.2)(3.9,9)(4.45,4.1)(4.8,0)(5.2,-2)(5.6,-0.7)(6,-2)(6.6,-3.2)(7,-0.7)(7.4,-2)(7.8,1.7)(8.1,4.1)(8.3,1.7)(8.6,-2)(9.1,0)(9.6,-1.5)(10.1,1)(10.6,-2)(11.1,-0.7)(11.8,0.5)(12.5,0)(14,0.3)(16,0)(25,0)};
\addplot[vbk=9] coordinates {(0,0)(1.5,0)(2,1)(2.4,3.7)(2.9,11)(3.4,15.9)(3.7,14.6)(4.1,11)(4.4,7.3)(4.8,3.7)(5,4.2)(5.3,1.2)(5.6,-0.7)(6,-3.7)(6.5,-2)(7,-0.7)(7.5,1.2)(8,0)(8.5,0.5)(9,-0.5)(9.5,0.5)(10,-0.3)(10.5,0.5)(11,0)(12,0.3)(13,0)(25,0)};
\addplot[vgr=10] coordinates {(0,0)(2.3,0)(2.8,1)(3.2,2.7)(3.7,6.3)(4.1,7.6)(4.5,6)(5,2.7)(5.3,0.2)(5.7,2.7)(5.9,0.2)(6.2,-3.4)(6.65,-4.6)(6.9,-2.2)(7.2,-4.6)(7.4,-1)(7.7,-1.5)(8,-3.4)(8.3,-5.4)(8.6,-2.2)(8.8,-1)(9.3,1)(9.8,0.2)(10.3,-0.5)(11,0.3)(12,-0.3)(13,0.2)(14,0)(25,0)};
\addplot[vbk=10] coordinates {(0,0)(2.3,0)(2.8,1)(3.2,3.2)(3.7,8)(4.2,11.7)(4.6,12.9)(5,10.5)(5.2,8)(5.5,3.2)(5.7,0.7)(6,-1)(6.3,-2.4)(6.75,-1.7)(7.3,-1)(7.8,-0.5)(8.3,0.3)(9,-0.3)(10,0.3)(11,-0.2)(12,0.3)(13,0)(25,0)};
\addplot[vgr=11] coordinates {(0,0)(3,0)(4.7,0.5)(5.7,0)(6.75,0)(7.2,2)(7.5,4.9)(8,8.5)(8.3,6)(8.5,4.9)(8.8,2.4)(9.05,0)(9.3,-2.4)(9.6,-4.9)(9.8,-2.9)(10.1,-4.4)(10.6,-1.2)(11.1,-2.4)(11.6,0)(12.1,-0.7)(12.6,1.2)(13.1,0)(14,0.3)(16,0)(25,0)};
\addplot[vbk=11] coordinates {(0,0)(3,0)(3.7,0.5)(4.2,1)(5,1.7)(5.7,0.5)(6.5,0)(6.9,0.5)(7.3,4.1)(7.7,7.8)(8,7.3)(8.3,8)(8.5,7.8)(8.8,5)(9.05,3)(9.6,-0.7)(10.1,-4.4)(10.3,-5.6)(10.6,-3.2)(11.1,-0.7)(11.8,0)(12.5,0.3)(14,0)(25,0)};
\addplot[vgr=12] coordinates {(0,0)(6,0)(8,0.3)(9,-0.7)(9.6,-1.7)(10.1,0)(10.6,1.2)(11.1,4.6)(11.4,3)(11.6,1.2)(11.9,2)(12.3,0)(12.9,-2.2)(13.4,-3.7)(13.9,-2.2)(14.4,-0.5)(15,0.2)(16,0)(25,0)};
\addplot[vbk=12] coordinates {(0,0)(5.5,0)(7,0.2)(8.8,0.5)(9.3,0)(9.6,1.2)(10.1,0.5)(10.6,2.2)(11.1,2.9)(11.6,4.1)(12.1,3)(12.4,2)(12.9,-0.7)(13.4,-3.2)(13.9,-2.4)(14.4,-0.7)(14.9,0.3)(15.4,-0.7)(16,0)(17,0.2)(18,0)(25,0)};
\addplot[vgr=13] coordinates {(0,0)(4,0)(6.2,-0.2)(7.3,-1.2)(7.8,-2)(8.3,0.5)(8.7,2.2)(9.05,1.7)(9.6,2.9)(10.1,2.2)(10.6,2.9)(11.1,4.1)(11.5,5.4)(11.9,6.6)(12.1,4.1)(12.4,0.5)(12.6,-2)(12.9,-3.2)(13.4,-1.2)(13.9,-0.2)(14.4,1.7)(14.9,1.2)(15.4,-0.7)(16,0.5)(17,0)(25,0)};
\addplot[vbk=13] coordinates {(0,0)(4,0)(6.2,-0.5)(7.3,-1.2)(8,-0.5)(8.5,0.5)(8.8,-1)(9.05,0)(9.4,2)(9.8,1.2)(10.2,2.9)(10.6,1.2)(11.1,0.5)(11.6,2.9)(11.9,4.4)(12.3,2.9)(12.6,2)(13.1,0.5)(13.6,-0.5)(14.2,-2.4)(14.7,-1.2)(15.2,0)(15.7,0.5)(16.5,0)(18,0.5)(19,0)(25,0)};
\addplot[vgr=14] coordinates {(0,0)(3,0)(4.7,-0.5)(5.5,-2)(6,-3.7)(6.5,-2)(7,-1.2)(7.5,2.4)(8,6.1)(8.3,7.3)(8.6,4.9)(8.8,2.4)(9.2,1.2)(9.6,4.9)(9.8,0)(10.1,3.7)(10.4,-0.5)(10.6,2.4)(10.9,0.5)(11.2,1.2)(11.5,-2.4)(11.8,-4.4)(12.1,-2.4)(12.6,-0.5)(13.1,-1.2)(13.6,0.5)(14.4,1.2)(15,0)(16,0.5)(17,-0.5)(18,0)(25,0)};
\addplot[vbk=14] coordinates {(0,0)(3,0)(4.2,0.5)(5.2,-0.5)(5.7,-1.5)(6.75,-1)(7.3,0)(7.5,3.4)(7.9,5.4)(8.2,3.9)(8.4,5.4)(8.8,2.9)(9.2,3.9)(9.6,2.2)(9.9,3.4)(10.3,1.5)(10.7,2.9)(11.1,2.2)(11.5,1)(11.9,-1.5)(12.3,-2)(12.9,-1)(13.6,-0.5)(14.4,0.5)(15.2,-0.2)(16,0.2)(17,0)(25,0)};
\addplot[vgr=15] coordinates {(0,0)(3,0)(4.7,-0.5)(5.5,-1.7)(6.2,-0.5)(6.75,3.2)(7,9.3)(7.2,10.5)(7.4,5.6)(7.8,0.7)(8.1,-1.7)(8.3,-2.9)(8.8,-0.5)(9.3,2)(9.6,3.7)(9.9,0.7)(10.2,-0.5)(10.5,1.2)(10.8,-1.7)(11,-2.9)(11.2,-4.6)(11.6,-1.7)(11.9,-0.5)(12.1,2)(12.4,2.7)(12.8,-0.5)(13.1,-2.9)(13.6,-0.5)(14.2,1.2)(14.7,0.2)(15.2,-1.2)(16,0)(17,-0.5)(25,0)};
\addplot[vbk=15] coordinates {(0,0)(3,0)(4.2,-0.5)(5,-2.4)(5.5,-3.4)(5.8,-1.7)(6,2)(6.3,5.6)(6.65,7.3)(6.9,6.3)(7.3,6.8)(7.5,4.4)(7.8,6.8)(8,3.9)(8.3,2)(8.8,0)(9.3,-1)(9.8,-1)(10.3,-1.7)(10.8,-1)(11.3,-2)(11.9,0)(12.4,0.5)(13.1,-0.5)(13.9,0)(15,0.3)(16,0)(25,0)};
\end{axis}

%% panel numbers
\foreach \k in {0,...,15} {
  \pgfmathtruncatemacro\lab{2*\k+2}
  \node[plab] at (211.3, 922-54.56*\k) {\lab};
  \node[plab] at (429.5, 922-54.56*\k) {\lab};
  \node[plab] at (650.5, 922-54.56*\k) {\lab};
}

%% titles and labels
\node[anchor=west, font=\bfseries\fontsize{14.5}{14.5}\selectfont] at (5,954) {(b)};
\node[anchor=west, font=\bfseries\itshape\fontsize{14}{14}\selectfont] at (61,954) {E–W};
\node[anchor=west, font=\bfseries\itshape\fontsize{14}{14}\selectfont] at (283,954) {N–S};
\node[anchor=west, font=\bfseries\itshape\fontsize{14}{14}\selectfont] at (501,954) {Vert.};
\node[font=\fontsize{15.5}{15.5}\selectfont] at (147.7,12) {Time (s)};
\node[font=\fontsize{15.5}{15.5}\selectfont] at (366,12) {Time (s)};
\node[font=\fontsize{15.5}{15.5}\selectfont] at (584.2,12) {Time (s)};
\node[rotate=90, anchor=base, font=\fontsize{21}{21}\selectfont] at (15,72) {Vel(cm/s)};
\draw[black, line width=1pt] (2,19.3) -- (32,19.3);
\draw[tracegray, line width=1pt] (2,1.7) -- (32,1.7);
\end{tikzpicture}
\end{document}
